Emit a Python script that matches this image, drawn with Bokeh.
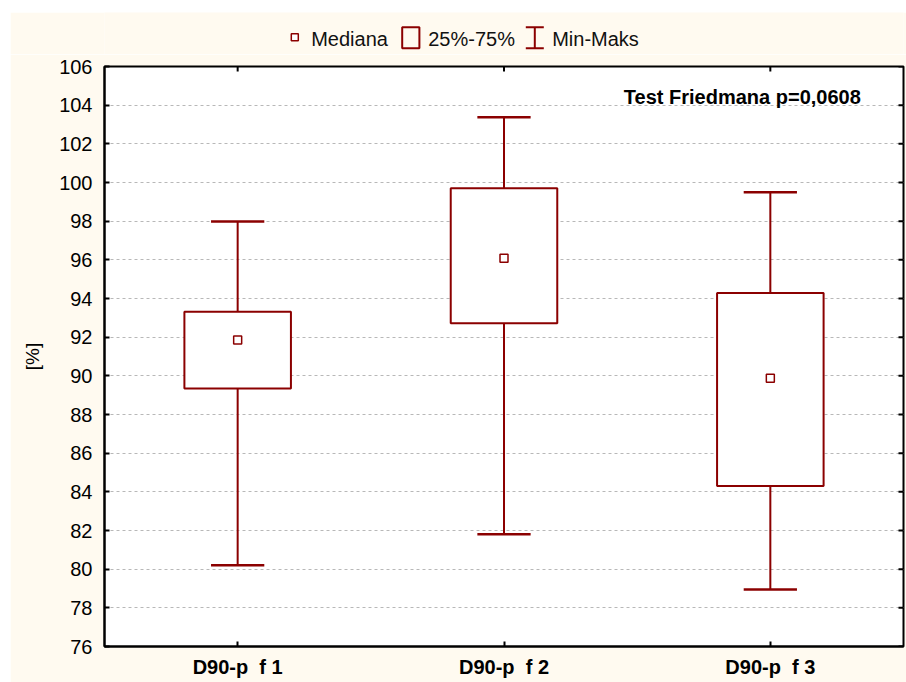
from math import pi

from bokeh.plotting import figure
from bokeh.models import Range1d, SingleIntervalTicker, FixedTicker
from bokeh.layouts import column
from bokeh.embed import file_html
from bokeh.resources import INLINE
from bokeh.core.properties import value

# ---- data -------------------------------------------------------------
categories = ["D90-p \u00a0f 1", "D90-p \u00a0f 2", "D90-p \u00a0f 3"]
positions = [1, 2, 3]
minimum = [80.2, 81.8, 78.95]
q25 = [89.35, 92.72, 84.3]
median = [91.85, 96.08, 89.88]
q75 = [93.32, 99.7, 94.28]
maximum = [97.98, 103.38, 99.5]

y_ticks_interval = 2
y_min, y_max = 76, 106
test_label = "Test Friedmana p=0,0608"
legend_labels = ["Mediana", "25%-75%", "Min-Maks"]
y_title = "[%]"

# ---- styling ----------------------------------------------------------
FONT = value("Liberation Sans")
CREAM = "#FFFAF0"
RED = "#8B0000"
BOX_W = 0.4
CAP_W = 0.2
X_LO, X_HI = 0.5, 3.5

# ---- main chart -------------------------------------------------------
p = figure(width=896, height=628,
           x_range=Range1d(X_LO, X_HI), y_range=Range1d(y_min, y_max),
           output_backend="svg", toolbar_location=None,
           min_border_left=94, min_border_right=3,
           min_border_top=12, min_border_bottom=36,
           background_fill_color="white", border_fill_color=CREAM,
           outline_line_color="black", outline_line_width=2)

# y axis (left) with labels
p.yaxis.ticker = SingleIntervalTicker(interval=y_ticks_interval, num_minor_ticks=0)
p.yaxis.major_label_text_font = "Liberation Sans"
p.yaxis.major_label_text_font_size = "20px"
p.yaxis.major_label_text_color = "black"
p.yaxis.major_label_standoff = 12
p.yaxis.major_tick_in = 5
p.yaxis.major_tick_out = 0
p.yaxis.minor_tick_line_color = None
p.yaxis.axis_line_width = 2
p.yaxis.major_tick_line_width = 2
p.yaxis.axis_label = y_title
p.yaxis.axis_label_text_font = "Liberation Sans"
p.yaxis.axis_label_text_font_style = "normal"
p.yaxis.axis_label_text_font_size = "19px"
p.yaxis.axis_label_text_color = "black"
p.yaxis.axis_label_standoff = 13

# x axis (below) with category labels
p.xaxis.ticker = FixedTicker(ticks=positions)
p.xaxis.major_label_overrides = {pos: cat for pos, cat in zip(positions, categories)}
p.xaxis.major_label_text_font = "Liberation Sans"
p.xaxis.major_label_text_font_style = "bold"
p.xaxis.major_label_text_font_size = "20px"
p.xaxis.major_label_text_color = "black"
p.xaxis.major_label_standoff = 9
p.xaxis.major_tick_in = 5
p.xaxis.major_tick_out = 0
p.xaxis.minor_tick_line_color = None
p.xaxis.axis_line_width = 2
p.xaxis.major_tick_line_width = 2

p.xgrid.visible = False
p.ygrid.grid_line_color = "#b8b8b8"
p.ygrid.grid_line_dash = "3 3"
p.ygrid.grid_line_width = 1

# mirrored inward ticks on the right and top edges of the frame
y_tick_values = list(range(y_min, y_max + 1, y_ticks_interval))
p.ray(x=[X_HI] * len(y_tick_values), y=y_tick_values, length=5, length_units="screen",
      angle=pi, line_color="black", line_width=2)
p.ray(x=positions, y=[y_max] * len(positions), length=5, length_units="screen",
      angle=-pi / 2, line_color="black", line_width=2)

# whiskers
p.segment(x0=positions, y0=q75, x1=positions, y1=maximum, line_color=RED, line_width=2)
p.segment(x0=positions, y0=q25, x1=positions, y1=minimum, line_color=RED, line_width=2)
p.segment(x0=[x - CAP_W / 2 for x in positions], y0=maximum,
          x1=[x + CAP_W / 2 for x in positions], y1=maximum, line_color=RED, line_width=2.5)
p.segment(x0=[x - CAP_W / 2 for x in positions], y0=minimum,
          x1=[x + CAP_W / 2 for x in positions], y1=minimum, line_color=RED, line_width=2.5)

# 25%-75% boxes
p.quad(left=[x - BOX_W / 2 for x in positions], right=[x + BOX_W / 2 for x in positions],
       bottom=q25, top=q75, fill_color="white", line_color=RED, line_width=2)

# medians
p.scatter(x=positions, y=median, marker="square", size=8,
          fill_color="white", line_color=RED, line_width=1.5)

# test annotation
p.text(x=[2.45], y=[104.4], text=[test_label], text_font=FONT, text_font_style="bold",
       text_font_size="20px", text_baseline="middle", text_align="left",
       text_color="black")

# ---- legend strip (coordinates in page pixels, y downward) -------------
lg = figure(width=896, height=42, x_range=Range1d(104, 903), y_range=Range1d(54, 12),
            output_backend="svg", toolbar_location=None,
            x_axis_location=None, y_axis_location=None,
            min_border_left=94, min_border_right=3, min_border_top=0, min_border_bottom=0,
            background_fill_color=CREAM, border_fill_color=CREAM,
            outline_line_color=None)
lg.grid.visible = False

text_mid_y = 38.5
icon_top, icon_bottom = 26.7, 47.7
x_median_icon, x_box_icon, x_range_icon = 294.3, 410.3, 534.3
text_x = [310.7, 427.7, 551.7]

lg.scatter(x=[x_median_icon], y=[36.7], marker="square", size=7,
           fill_color="white", line_color=RED, line_width=1.5)
lg.quad(left=[x_box_icon - 8.6], right=[x_box_icon + 8.6], bottom=[icon_bottom], top=[icon_top],
        fill_color=None, line_color=RED, line_width=2)
lg.segment(x0=[x_range_icon, x_range_icon - 9, x_range_icon - 9],
           y0=[icon_bottom, icon_top, icon_bottom],
           x1=[x_range_icon, x_range_icon + 9, x_range_icon + 9],
           y1=[icon_top, icon_top, icon_bottom], line_color=RED, line_width=2)
lg.text(x=text_x, y=[text_mid_y] * 3, text=legend_labels, text_font=FONT,
        text_font_size="20px", text_baseline="middle", text_align="left",
        text_color="#111111")

layout = column(lg, p, spacing=0, margin=(12, 0, 0, 10))

open("out.html", "w").write(file_html(layout, INLINE))
